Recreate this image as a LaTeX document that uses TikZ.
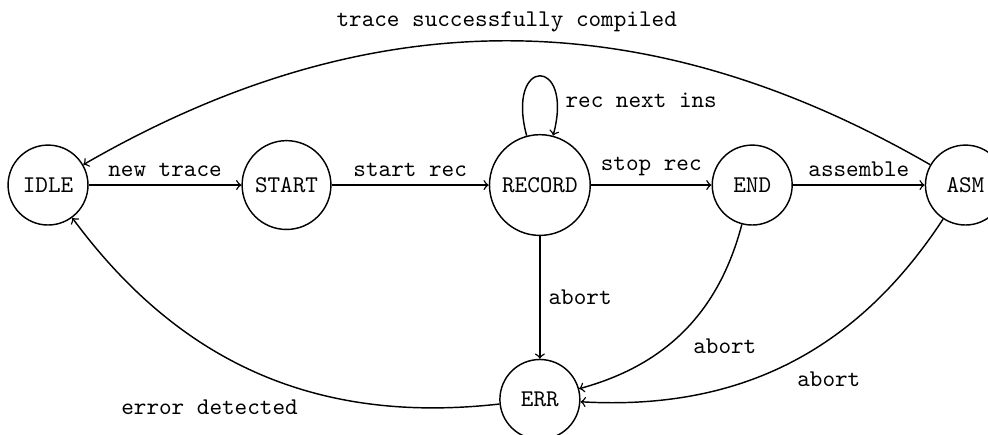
\documentclass[tikz,border=0pt]{standalone}
\usepackage{amsmath, amssymb}
\usetikzlibrary{positioning}
\usetikzlibrary{calc}

\begin{document}
\begin{tikzpicture}[
                font=\ttfamily, semithick,
                statenode/.style={circle, draw, minimum size=1.17cm, inner sep=4pt},
                ]
                \useasboundingbox (-0.703,-3.645) rectangle (13.76,2.709);

                \node[statenode] (IDLE) {IDLE};
                \node[statenode, right=2.235cm of IDLE] (START) {START};
                \node[statenode, right=2.30cm of START] (RECORD) {RECORD};
                \node[statenode, right=1.765cm of RECORD] (END) {END};
                \node[statenode, right=1.93cm of END] (ASM) {ASM};
                \node[statenode, below=1.795cm of RECORD] (ERR) {ERR};

                \draw[->] (IDLE) -- node[above] {new trace} (START);
                \draw[->] (START) -- node[above] {start rec} (RECORD);
                \draw[->] (RECORD) -- node[above] {stop rec} (END);
                \draw[->] (END) -- node[above] {assemble} (ASM);

                \draw[->] (RECORD) to[loop above] node[right, pos=0.82] {rec next ins} (RECORD);
                \draw[->] (ASM) to[bend right=30] node[above] {trace successfully compiled} (IDLE);

                \draw[->] (RECORD) -- node[right] {abort} (ERR);
                \draw[->] (END) to[bend left=30] node[below right] {abort} (ERR);
                \draw[->] (ASM) to[bend left=30] node[below right] {abort} (ERR);
                \draw[->] (ERR) to[bend left=30] node[below left, pos=0.39] {error detected} (IDLE);
            \end{tikzpicture}
\end{document}
